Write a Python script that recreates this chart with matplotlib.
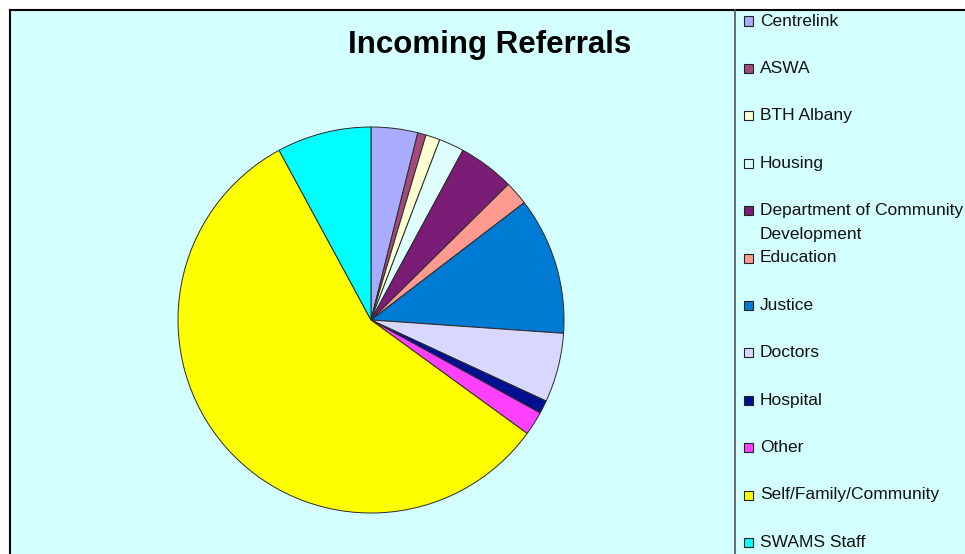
import matplotlib
matplotlib.use('Agg')
import matplotlib.pyplot as plt
from matplotlib.patches import Rectangle
from matplotlib.lines import Line2D

plt.rcParams['font.family'] = ['Liberation Sans', 'DejaVu Sans']

# --- data (approx. share of referrals, %) ---
sources = ['Centrelink', 'ASWA', 'BTH Albany', 'Housing',
           'Department of Community\nDevelopment', 'Education', 'Justice',
           'Doctors', 'Hospital', 'Other', 'Self/Family/Community', 'SWAMS Staff']
shares = [3.9, 0.7, 1.2, 2.1, 4.7, 2.0, 11.5, 5.8, 1.1, 2.0, 57.1, 7.9]
colours = ['#A9ABFF', '#A34A7A', '#FFFFD2', '#DFFFFF', '#7B1C76', '#FF9A90',
           '#007BD3', '#D8D8FF', '#001090', '#FF40FF', '#FFFF00', '#00FFFF']

W, H = 965, 554
bg = '#D4FFFF'

fig = plt.figure(figsize=(W / 100, H / 100), dpi=100, facecolor='white')

# chart area (cropped at right and bottom)
fig.patches.append(Rectangle((10 / W, -0.05), 1.1, (H - 10) / H + 0.05,
                             transform=fig.transFigure, facecolor=bg,
                             edgecolor='none', zorder=-5))
fig.lines.append(Line2D([10 / W, 10 / W], [0, (H - 10) / H], transform=fig.transFigure,
                        color='black', lw=1.5))
fig.lines.append(Line2D([10 / W, 1], [(H - 10) / H, (H - 10) / H], transform=fig.transFigure,
                        color='black', lw=1.5))
fig.lines.append(Line2D([735 / W, 735 / W], [0, (H - 10) / H], transform=fig.transFigure,
                        color='#555555', lw=1.2))

# pie
cx, cy, r = 371, H - 320, 193
ax = fig.add_axes([(cx - r) / W, (cy - r) / H, 2 * r / W, 2 * r / H])
ax.set_zorder(1)
wedges, _ = ax.pie(shares, colors=colours, startangle=90, counterclock=False,
                   wedgeprops=dict(edgecolor='#2a2a2a', linewidth=0.7))
for w in wedges:
    w.set_clip_on(False)
ax.set_xlim(-1, 1)
ax.set_ylim(-1, 1)
ax.set_aspect('equal')
ax.axis('off')

fig.text(490 / W, (H - 45) / H, 'Incoming Referrals', ha='center', va='center',
         fontsize=22.5, fontweight='bold')

# legend, drawn by hand to keep the fixed row spacing
step = 47.4
for i, (name, col) in enumerate(zip(sources, colours)):
    y = 21 + i * step
    fig.patches.append(Rectangle((744 / W, (H - y - 4.5) / H), 9 / W, 9 / H,
                                 transform=fig.transFigure, facecolor=col,
                                 edgecolor='#222222', linewidth=0.8))
    for j, part in enumerate(name.split('\n')):
        fig.text(760 / W, (H - y - j * 24) / H, part, ha='left', va='center',
                 fontsize=12.5, color='#111111')

fig.savefig('out.png', dpi=100, facecolor='white')
